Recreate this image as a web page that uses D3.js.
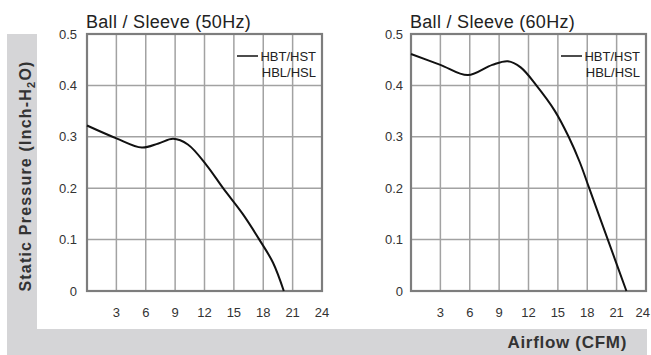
<!DOCTYPE html>
<html><head><meta charset="utf-8">
<script src="https://cdn.jsdelivr.net/npm/d3@7"></script>
<style>html,body{margin:0;padding:0;background:#fff;}svg{display:block;}</style>
</head><body>
<script>
const titles = ["Ball / Sleeve (50Hz)", "Ball / Sleeve (60Hz)"];
const legendLabels = ["HBT/HST", "HBL/HSL"];
const xTicks = [3, 6, 9, 12, 15, 18, 21, 24];
const yTicks = [0, 0.1, 0.2, 0.3, 0.4, 0.5];
const yTickLabels = ["0", "0.1", "0.2", "0.3", "0.4", "0.5"];
const airflow50 = [0, 3, 5.6, 7.3, 8.8, 10.3, 12.2, 13.9, 15.9, 17.6, 19.0, 20.1];
const pressure50 = [0.322, 0.297, 0.279, 0.287, 0.296, 0.285, 0.245, 0.2, 0.15, 0.1, 0.055, 0];
const airflow60 = [0, 3, 5.8, 8.3, 9.9, 11.2, 12.8, 14.7, 16.1, 17.25, 18.2, 20.1, 22.0];
const pressure60 = [0.461, 0.44, 0.42, 0.44, 0.447, 0.435, 0.4, 0.35, 0.3, 0.25, 0.2, 0.1, 0];

const W = 651, H = 355;
const svg = d3.select("body").append("svg").attr("width", W).attr("height", H);
const font = "'Liberation Sans', Arial, Helvetica, sans-serif";

// gray L background
svg.append("path")
  .attr("d", "M7,34 H37 V329 H647 V355 H7 Z")
  .attr("fill", "#d5d5d7");

const panels = [
  {x0: 87, x1: 322, labelX: 77, title: titles[0], xs: airflow50, ys: pressure50},
  {x0: 411, x1: 646, labelX: 403, title: titles[1], xs: airflow60, ys: pressure60}
];
const yTop = 34, yBot = 291;

panels.forEach((p, pi) => {
  const x = d3.scaleLinear().domain([0, 24]).range([p.x0, p.x1]);
  const y = d3.scaleLinear().domain([0, 0.5]).range([yBot, yTop]);
  const g = svg.append("g");

  // grid
  g.selectAll("line.v").data(xTicks.slice(0, -1)).enter().append("line")
    .attr("x1", d => x(d)).attr("x2", d => x(d)).attr("y1", yTop).attr("y2", yBot)
    .attr("stroke", "#a2a2a2").attr("stroke-width", 1.5);
  g.selectAll("line.h").data(yTicks.slice(1, -1)).enter().append("line")
    .attr("x1", p.x0).attr("x2", p.x1).attr("y1", d => y(d)).attr("y2", d => y(d))
    .attr("stroke", "#a2a2a2").attr("stroke-width", 1.5);
  g.append("rect").attr("x", p.x0).attr("y", yTop).attr("width", p.x1 - p.x0).attr("height", yBot - yTop)
    .attr("fill", "none").attr("stroke", "#7d7d7d").attr("stroke-width", 2.2);

  // y tick labels
  g.selectAll("text.yt").data(yTicks).enter().append("text")
    .attr("x", p.labelX).attr("y", d => y(d)).attr("dy", "0.35em")
    .attr("text-anchor", "end").attr("font-family", font).attr("font-size", 13)
    .attr("fill", "#333").text((d, i) => yTickLabels[i]);
  // x tick labels
  g.selectAll("text.xt").data(xTicks).enter().append("text")
    .attr("x", d => (pi === 1 && d === 24) ? W - 1 : x(d)).attr("y", 312).attr("dy", "0.35em")
    .attr("text-anchor", d => (pi === 1 && d === 24) ? "end" : "middle")
    .attr("font-family", font).attr("font-size", 13)
    .attr("fill", "#333").text(d => d);

  // title
  g.append("text").attr("x", p.x0 - 1).attr("y", 27.5)
    .attr("font-family", font).attr("font-size", 18).attr("letter-spacing", 0.3).attr("fill", "#222")
    .text(p.title);

  // curve
  const pts = p.xs.map((v, i) => [v, p.ys[i]]);
  g.append("path").datum(pts)
    .attr("d", d3.line().x(d => x(d[0])).y(d => y(d[1])).curve(d3.curveCatmullRom.alpha(0.5)))
    .attr("fill", "none").attr("stroke", "#111").attr("stroke-width", 2);

  // legend
  const lx = p.x1 - 6;
  g.append("line").attr("x1", lx - 79).attr("x2", lx - 58).attr("y1", 56).attr("y2", 56)
    .attr("stroke", "#111").attr("stroke-width", 1.5);
  legendLabels.forEach((t, i) => {
    g.append("text").attr("x", lx).attr("y", 56 + i * 16.5).attr("dy", "0.35em")
      .attr("text-anchor", "end").attr("font-family", font).attr("font-size", 13)
      .attr("fill", "#222").text(t);
  });
});

// y axis title
const yt = svg.append("text")
  .attr("transform", "translate(31,176) rotate(-90)")
  .attr("text-anchor", "middle").attr("font-family", font).attr("font-size", 16)
  .attr("letter-spacing", 1.2)
  .attr("font-weight", "bold").attr("fill", "#333");
yt.append("tspan").text("Static Pressure (Inch-H");
yt.append("tspan").attr("font-size", 11).attr("dy", 4).text("2");
yt.append("tspan").attr("dy", -4).text("O)");

// x axis title
svg.append("text").attr("x", 627).attr("y", 348)
  .attr("text-anchor", "end").attr("font-family", font).attr("font-size", 17)
  .attr("letter-spacing", 0.7)
  .attr("font-weight", "bold").attr("fill", "#333").text("Airflow (CFM)");
</script>
</body></html>
